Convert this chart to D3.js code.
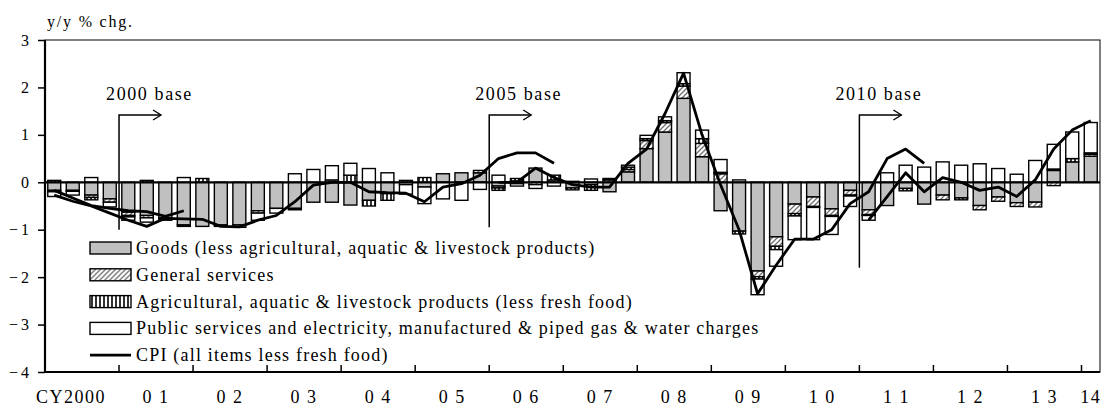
<!DOCTYPE html>
<html>
<head>
<meta charset="utf-8">
<script src="https://cdn.jsdelivr.net/npm/d3@7"></script>
<style>
  body { margin: 0; background: #fff; }
  text { font-family: "Liberation Serif", "Times New Roman", serif; fill: #000; }
</style>
</head>
<body>
<div id="chart"></div>
<script>
// quarters CY2000 Q1 .. 2014 Q1
const quarters = [];
for (let yr = 2000; yr <= 2014; yr++)
  for (let q = 1; q <= 4; q++)
    if (yr < 2014 || q === 1) quarters.push(yr + "Q" + q);

const yearLabels = ["CY2000", "0 1", "0 2", "0 3", "0 4", "0 5", "0 6", "0 7",
                    "0 8", "0 9", "1 0", "1 1", "1 2", "1 3", "14"];
const yTicks = [-4, -3, -2, -1, 0, 1, 2, 3];

// contributions, y/y % chg.
const goods = [-0.17, -0.17, -0.27, -0.35, -0.63, -0.70, -0.75, -0.90, -0.93, -0.90, -0.90, -0.60,
  -0.55, -0.55, -0.42, -0.42, -0.48, -0.38, -0.24, -0.05, -0.10, 0.18, 0.20, 0.20,
  -0.08, 0.03, 0.30, 0.05, -0.12, -0.05, -0.20, 0.22, 0.71, 1.06, 1.77, 0.54,
  -0.60, -1.03, -1.87, -1.15, -0.46, -0.31, -0.56, -0.17, -0.58, -0.49, -0.13, -0.46,
  -0.27, -0.33, -0.49, -0.31, -0.43, -0.42, 0.25, 0.43, 0.55];
const services = [-0.03, -0.02, -0.05, -0.07, -0.07, -0.05, -0.03, 0.00, 0.00, -0.03, -0.05, -0.05,
  0.00, 0.00, 0.00, 0.05, 0.00, 0.00, 0.00, 0.00, 0.00, 0.00, 0.00, 0.05,
  -0.04, -0.03, -0.05, 0.00, 0.00, 0.00, 0.05, 0.05, 0.17, 0.20, 0.26, 0.28,
  0.18, 0.00, -0.12, -0.20, -0.20, -0.20, -0.14, -0.10, -0.10, 0.00, 0.00, 0.00,
  -0.10, 0.00, -0.09, -0.09, -0.08, -0.10, -0.07, 0.00, 0.04];
const agri = [0.04, 0.00, -0.05, 0.00, -0.03, 0.04, 0.00, -0.03, 0.08, 0.00, 0.00, 0.00,
  0.00, -0.03, 0.00, 0.00, 0.15, -0.12, -0.14, 0.04, 0.10, 0.00, 0.00, 0.00,
  -0.05, 0.05, 0.00, 0.10, -0.04, -0.12, 0.03, 0.05, 0.04, 0.04, 0.05, 0.10,
  0.03, -0.06, -0.05, -0.07, -0.05, -0.02, -0.02, -0.02, -0.02, 0.00, -0.05, 0.00,
  0.00, -0.04, 0.00, 0.00, 0.00, 0.00, 0.03, 0.07, 0.03];
const publicSvc = [-0.10, -0.08, 0.10, -0.10, -0.07, -0.09, -0.02, 0.10, 0.00, 0.00, 0.00, -0.15,
  -0.10, 0.18, 0.27, 0.30, 0.25, 0.29, 0.20, -0.20, -0.35, -0.35, -0.38, -0.15,
  0.15, -0.05, -0.08, -0.08, 0.02, 0.07, 0.00, 0.04, 0.07, 0.08, 0.23, 0.18,
  0.27, 0.05, -0.33, -0.35, -0.50, -0.68, -0.38, -0.22, -0.10, 0.20, 0.36, 0.32,
  0.43, 0.36, 0.39, 0.29, 0.17, 0.46, 0.52, 0.56, 0.64];

// CPI (all items less fresh food), one line per base year
const cpi1995 = [-0.17, -0.33, -0.49, -0.55, -0.60, -0.62, -0.72, -0.60];
const cpi2000 = [-0.27, -0.40, -0.50, -0.65, -0.80, -0.93, -0.76, -0.77, -0.78, -0.93, -0.94, -0.80,
  -0.70, -0.41, -0.06, 0.00, 0.00, -0.20, -0.22, -0.23, -0.41, -0.10, -0.03, 0.15,
  0.50, 0.62, 0.62, 0.40];
const cpi2005 = [0.00, 0.00, 0.30, 0.10, -0.05, -0.10, -0.10, 0.40, 0.70, 1.45, 2.30, 1.00,
  -0.05, -1.00, -2.35, -1.75, -1.20, -1.20, -1.00, -0.45, -0.20, 0.50, 0.70, 0.40];
const cpi2010 = [-0.80, -0.30, 0.20, -0.20, 0.10, 0.00, -0.17, -0.10, -0.30, 0.05, 0.70, 1.10, 1.30];

const cpiLines = [
  {start: "2000Q1", values: cpi1995},
  {start: "2000Q1", values: cpi2000},
  {start: "2006Q1", values: cpi2005},
  {start: "2011Q1", values: cpi2010}
];

const baseNotes = [
  {q: "2001Q1", label: "2000 base", dx: -13, bottom: -1.0},
  {q: "2006Q1", label: "2005 base", dx: -14, bottom: -0.95},
  {q: "2011Q1", label: "2010 base", dx: -24, bottom: -1.8}
];

const keys = ["goods", "services", "agri", "publicSvc"];
const legendNames = ["Goods (less agricultural, aquatic & livestock products)",
  "General services",
  "Agricultural, aquatic & livestock products (less fresh food)",
  "Public services and electricity, manufactured & piped gas & water charges",
  "CPI (all items less fresh food)"];

const rows = quarters.map((q, i) => ({q: q, goods: goods[i], services: services[i],
  agri: agri[i], publicSvc: publicSvc[i]}));

const margin = {top: 40, right: 2, bottom: 35, left: 45},
    width = 1102 - margin.left - margin.right,
    height = 407 - margin.top - margin.bottom;

const root = d3.select("#chart").append("svg")
  .attr("width", 1102).attr("height", 407);

// patterns
const defs = root.append("defs");
const hatch = defs.append("pattern").attr("id", "hatch")
  .attr("patternUnits", "userSpaceOnUse").attr("width", 5).attr("height", 5);
hatch.append("rect").attr("width", 5).attr("height", 5).attr("fill", "#fff");
hatch.append("path").attr("d", "M-1,1 l2,-2 M0,5 l5,-5 M4,6 l2,-2")
  .attr("stroke", "#707070").attr("stroke-width", 1.3);
const stripe = defs.append("pattern").attr("id", "stripe")
  .attr("patternUnits", "userSpaceOnUse").attr("width", 4).attr("height", 4);
stripe.append("rect").attr("width", 4).attr("height", 4).attr("fill", "#fff");
stripe.append("rect").attr("x", 1.2).attr("width", 1.6).attr("height", 4).attr("fill", "#000");

const fills = {goods: "#c0c0c0", services: "url(#hatch)", agri: "url(#stripe)", publicSvc: "#fff"};

const svg = root.append("g")
  .attr("transform", `translate(${margin.left}, ${margin.top})`);

const x = d3.scaleBand().domain(quarters).range([0, width])
  .paddingInner(0.3).paddingOuter(0.15);
const y = d3.scaleLinear().domain([-4, 3]).range([height, 0]);
const edge = q => x(q) - x.step() * 0.15;

// title
root.append("text").attr("x", 47).attr("y", 27)
  .style("font-size", "16px").style("letter-spacing", "1.8px")
  .text("y/y % chg.");

// bars
const stacked = d3.stack().keys(keys).offset(d3.stackOffsetDiverging)(rows);
svg.selectAll("g.layer")
  .data(stacked)
  .join("g")
    .attr("class", "layer")
    .attr("fill", d => fills[d.key])
  .selectAll("rect")
  .data(d => d.filter(p => p[1] - p[0] !== 0))
  .join("rect")
    .attr("x", d => x(d.data.q))
    .attr("width", x.bandwidth())
    .attr("y", d => y(Math.max(d[0], d[1])))
    .attr("height", d => Math.abs(y(d[0]) - y(d[1])))
    .attr("stroke", "#000")
    .attr("stroke-width", 1.4);

// frame
svg.append("rect").attr("width", width).attr("height", height)
  .attr("fill", "none").attr("stroke", "#000").attr("stroke-width", 1);
svg.append("line").attr("x1", 0).attr("x2", 0).attr("y1", 0).attr("y2", height)
  .attr("stroke", "#000").attr("stroke-width", 2.2);
svg.append("line").attr("x1", 0).attr("x2", width).attr("y1", height).attr("y2", height)
  .attr("stroke", "#000").attr("stroke-width", 2.2);
svg.append("line").attr("x1", 0).attr("x2", width).attr("y1", y(0)).attr("y2", y(0))
  .attr("stroke", "#000").attr("stroke-width", 2.2);

// y axis
const yAxis = svg.append("g")
  .call(d3.axisLeft(y).tickValues(yTicks).tickSize(7).tickPadding(6).tickFormat(d3.format("d")));
yAxis.select(".domain").remove();
yAxis.selectAll("line").attr("stroke-width", 1.5);
yAxis.selectAll("text")
  .style("font-size", "16px")
  .style("letter-spacing", "3px")
  .style("font-family", "Liberation Serif, serif");

// x ticks at year boundaries and year labels
const years = d3.range(yearLabels.length);
svg.selectAll("line.xtick")
  .data(years.slice(1))
  .join("line")
    .attr("class", "xtick")
    .attr("x1", k => edge(quarters[4 * k])).attr("x2", k => edge(quarters[4 * k]))
    .attr("y1", height).attr("y2", height - 7)
    .attr("stroke", "#000").attr("stroke-width", 1.5);
svg.selectAll("text.xlab")
  .data(years)
  .join("text")
    .attr("class", "xlab")
    .attr("x", k => {
      const first = quarters[4 * k];
      const last = quarters[Math.min(4 * k + 3, quarters.length - 1)];
      return (edge(first) + edge(last) + x.step()) / 2 + (k === 0 ? -11 : 0);
    })
    .attr("y", height + 31)
    .attr("text-anchor", "middle")
    .style("font-size", "18px")
    .style("letter-spacing", "1.5px")
    .text(k => yearLabels[k]);

// CPI lines
const line = d3.line()
  .x(d => x(d.q) + x.bandwidth() / 2)
  .y(d => y(d.v));
cpiLines.forEach(s => {
  const i0 = quarters.indexOf(s.start);
  svg.append("path")
    .datum(s.values.map((v, i) => ({q: quarters[i0 + i], v: v})))
    .attr("fill", "none")
    .attr("stroke", "#000")
    .attr("stroke-width", 2.8)
    .attr("stroke-linejoin", "round")
    .attr("d", line);
});

// base-year annotations
const noteTop = 1.42;
baseNotes.forEach(n => {
  const bx = edge(n.q), ty = y(noteTop);
  svg.append("path")
    .attr("d", `M${bx},${y(n.bottom)} V${ty} H${bx + 42}`)
    .attr("fill", "none").attr("stroke", "#000").attr("stroke-width", 1.5);
  svg.append("path")
    .attr("d", `M${bx + 34},${ty - 5} L${bx + 42},${ty} L${bx + 34},${ty + 5}`)
    .attr("fill", "none").attr("stroke", "#000").attr("stroke-width", 1.3);
  svg.append("text")
    .attr("x", bx + n.dx).attr("y", y(1.74))
    .style("font-size", "18px").style("letter-spacing", "1.6px")
    .text(n.label);
});

// legend
const legend = svg.append("g").attr("transform", "translate(45, 208)");
legendNames.forEach((name, i) => {
  const g = legend.append("g").attr("transform", `translate(0, ${i * 26.8})`);
  if (i < 4) {
    g.append("rect").attr("x", 0).attr("y", -6).attr("width", 41).attr("height", 12)
      .attr("fill", fills[keys[i]]).attr("stroke", "#000").attr("stroke-width", 1.4);
  } else {
    g.append("line").attr("x1", 0).attr("x2", 41).attr("y1", 0).attr("y2", 0)
      .attr("stroke", "#000").attr("stroke-width", 2.8);
  }
  g.append("text").attr("x", 46).attr("y", 6)
    .style("font-size", "18px").style("letter-spacing", "1.2px")
    .text(name);
});
</script>
</body>
</html>
